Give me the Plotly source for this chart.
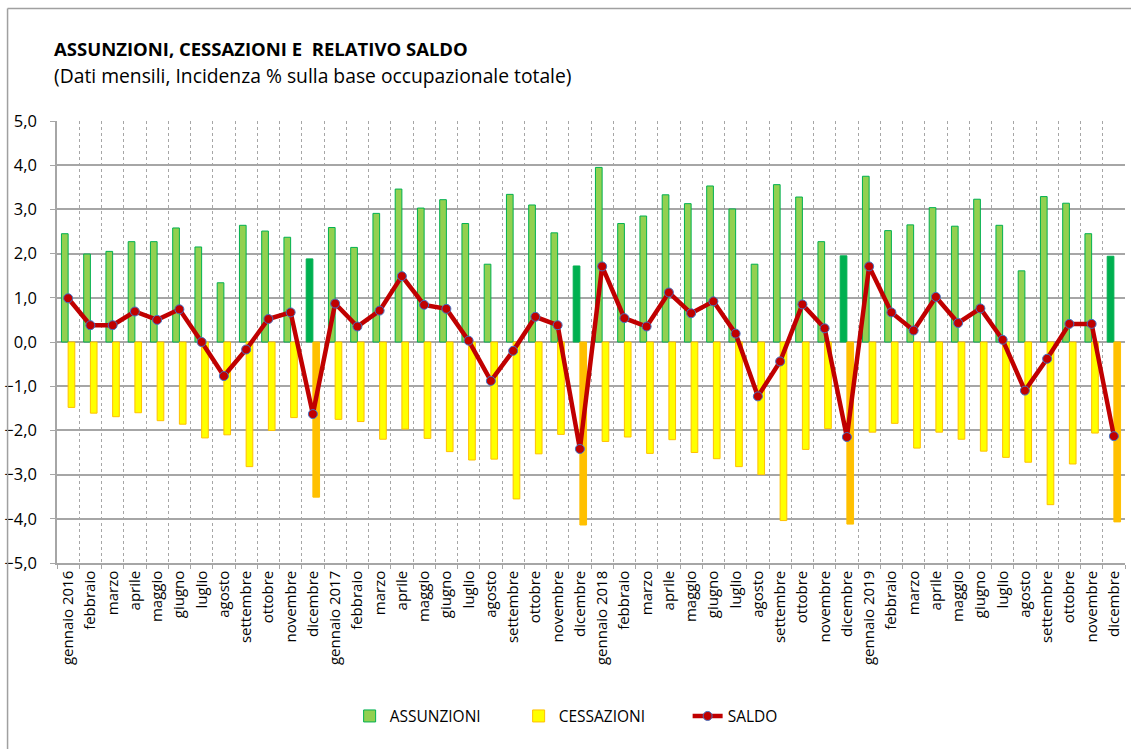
import plotly.graph_objects as go

mesi = ["gennaio", "febbraio", "marzo", "aprile", "maggio", "giugno", "luglio",
        "agosto", "settembre", "ottobre", "novembre", "dicembre"]
anni = [2016, 2017, 2018, 2019]

categorie = [f"{a}-{i + 1:02d}" for a in anni for i in range(12)]
etichette = [f"{m} {a}" if i == 0 else m for a in anni for i, m in enumerate(mesi)]

assunzioni = [2.45, 1.99, 2.05, 2.27, 2.27, 2.58, 2.15, 1.34, 2.64, 2.51, 2.37, 1.88,
              2.59, 2.14, 2.91, 3.46, 3.03, 3.22, 2.68, 1.76, 3.34, 3.10, 2.47, 1.72,
              3.95, 2.68, 2.85, 3.33, 3.13, 3.53, 3.01, 1.76, 3.56, 3.28, 2.27, 1.95,
              3.75, 2.52, 2.65, 3.04, 2.62, 3.23, 2.64, 1.61, 3.29, 3.14, 2.45, 1.94]
cessazioni = [-1.48, -1.61, -1.69, -1.60, -1.78, -1.86, -2.17, -2.10, -2.82, -2.00, -1.71, -3.51,
              -1.75, -1.80, -2.20, -1.97, -2.18, -2.48, -2.67, -2.65, -3.55, -2.53, -2.09, -4.14,
              -2.25, -2.15, -2.52, -2.21, -2.50, -2.64, -2.82, -3.00, -4.04, -2.43, -1.96, -4.12,
              -2.04, -1.84, -2.40, -2.04, -2.20, -2.47, -2.61, -2.72, -3.68, -2.76, -2.06, -4.07]
saldo = [0.99, 0.38, 0.38, 0.69, 0.50, 0.74, 0.00, -0.77, -0.17, 0.52, 0.67, -1.63,
         0.87, 0.35, 0.71, 1.49, 0.84, 0.75, 0.03, -0.88, -0.20, 0.57, 0.38, -2.42,
         1.71, 0.54, 0.35, 1.12, 0.65, 0.92, 0.19, -1.23, -0.44, 0.85, 0.31, -2.15,
         1.71, 0.67, 0.26, 1.02, 0.43, 0.76, 0.05, -1.10, -0.38, 0.41, 0.41, -2.13]

n = len(categorie)
is_dic = [(i % 12) == 11 for i in range(n)]
col_ass = ["#00B050" if d else "#92D050" for d in is_dic]
col_ces = ["#FFC000" if d else "#FFFF00" for d in is_dic]

fig = go.Figure()
fig.add_trace(go.Bar(x=categorie, y=assunzioni, name="ASSUNZIONI",
                     marker=dict(color=col_ass, line=dict(color="#00B050", width=1))))
fig.add_trace(go.Bar(x=categorie, y=cessazioni, name="CESSAZIONI",
                     marker=dict(color=col_ces, line=dict(color="#FFC000", width=1))))
fig.add_trace(go.Scatter(x=categorie, y=saldo, name="SALDO", mode="lines+markers",
                         line=dict(color="#C00000", width=4.5),
                         marker=dict(color="#C00000", size=9,
                                     line=dict(color="#4472C4", width=1))))

fnt = "Open Sans, sans-serif"
fig.update_layout(
    width=1131, height=749,
    margin=dict(l=57, r=6, t=121, b=186, autoexpand=False),
    paper_bgcolor="white", plot_bgcolor="white",
    barmode="group", bargap=0.4, bargroupgap=0,
    separators=", ",
    font=dict(family=fnt, size=14, color="black"),
    showlegend=True,
    legend=dict(orientation="h", x=0.274, xanchor="left", y=-0.347, yanchor="middle",
                font=dict(size=15.5), entrywidth=124, entrywidthmode="pixels",
                traceorder="normal"),
    xaxis=dict(type="category", tickmode="array", tickvals=categorie, ticktext=etichette,
               tickangle=-90, tickson="boundaries", ticks="outside", ticklen=4,
               tickcolor="#A6A6A6",
               showgrid=True, gridcolor="#A6A6A6", griddash="dot", gridwidth=1,
               showline=True, linecolor="#A6A6A6", linewidth=1.5,
               tickfont=dict(size=15), range=[-0.5, n - 0.5], automargin=False),
    yaxis=dict(range=[-5, 5], dtick=1, tickformat=".1f", showgrid=True,
               gridcolor="#A6A6A6", gridwidth=1.5, zeroline=True,
               zerolinecolor="#A6A6A6", zerolinewidth=1.5,
               showline=True, linecolor="#A6A6A6", linewidth=1.5,
               ticks="outside", ticklen=5, tickcolor="#A6A6A6",
               ticklabelstandoff=10,
               tickfont=dict(size=16.5), automargin=False),
    annotations=[
        dict(text="<b>ASSUNZIONI, CESSAZIONI E  RELATIVO SALDO</b>", xref="paper", yref="paper",
             x=-0.0047, y=1.164, xanchor="left", yanchor="middle", showarrow=False,
             font=dict(size=18.5, family=fnt)),
        dict(text="(Dati mensili, Incidenza % sulla base occupazionale totale)", xref="paper",
             yref="paper", x=-0.0047, y=1.103, xanchor="left", yanchor="middle",
             showarrow=False, font=dict(size=19.3, family=fnt)),
    ],
    shapes=[
        dict(type="line", xref="paper", yref="paper", x0=-0.0463, x1=1.01, y0=1.2546, y1=1.2546,
             line=dict(color="#A0A0A0", width=1.5)),
        dict(type="line", xref="paper", yref="paper", x0=-0.0463, x1=-0.0463, y0=1.2546, y1=-0.43,
             line=dict(color="#A0A0A0", width=1.5)),
    ],
)

fig.write_html("out.html", config={"displayModeBar": False},
               post_script="document.body.style.margin='0';")
